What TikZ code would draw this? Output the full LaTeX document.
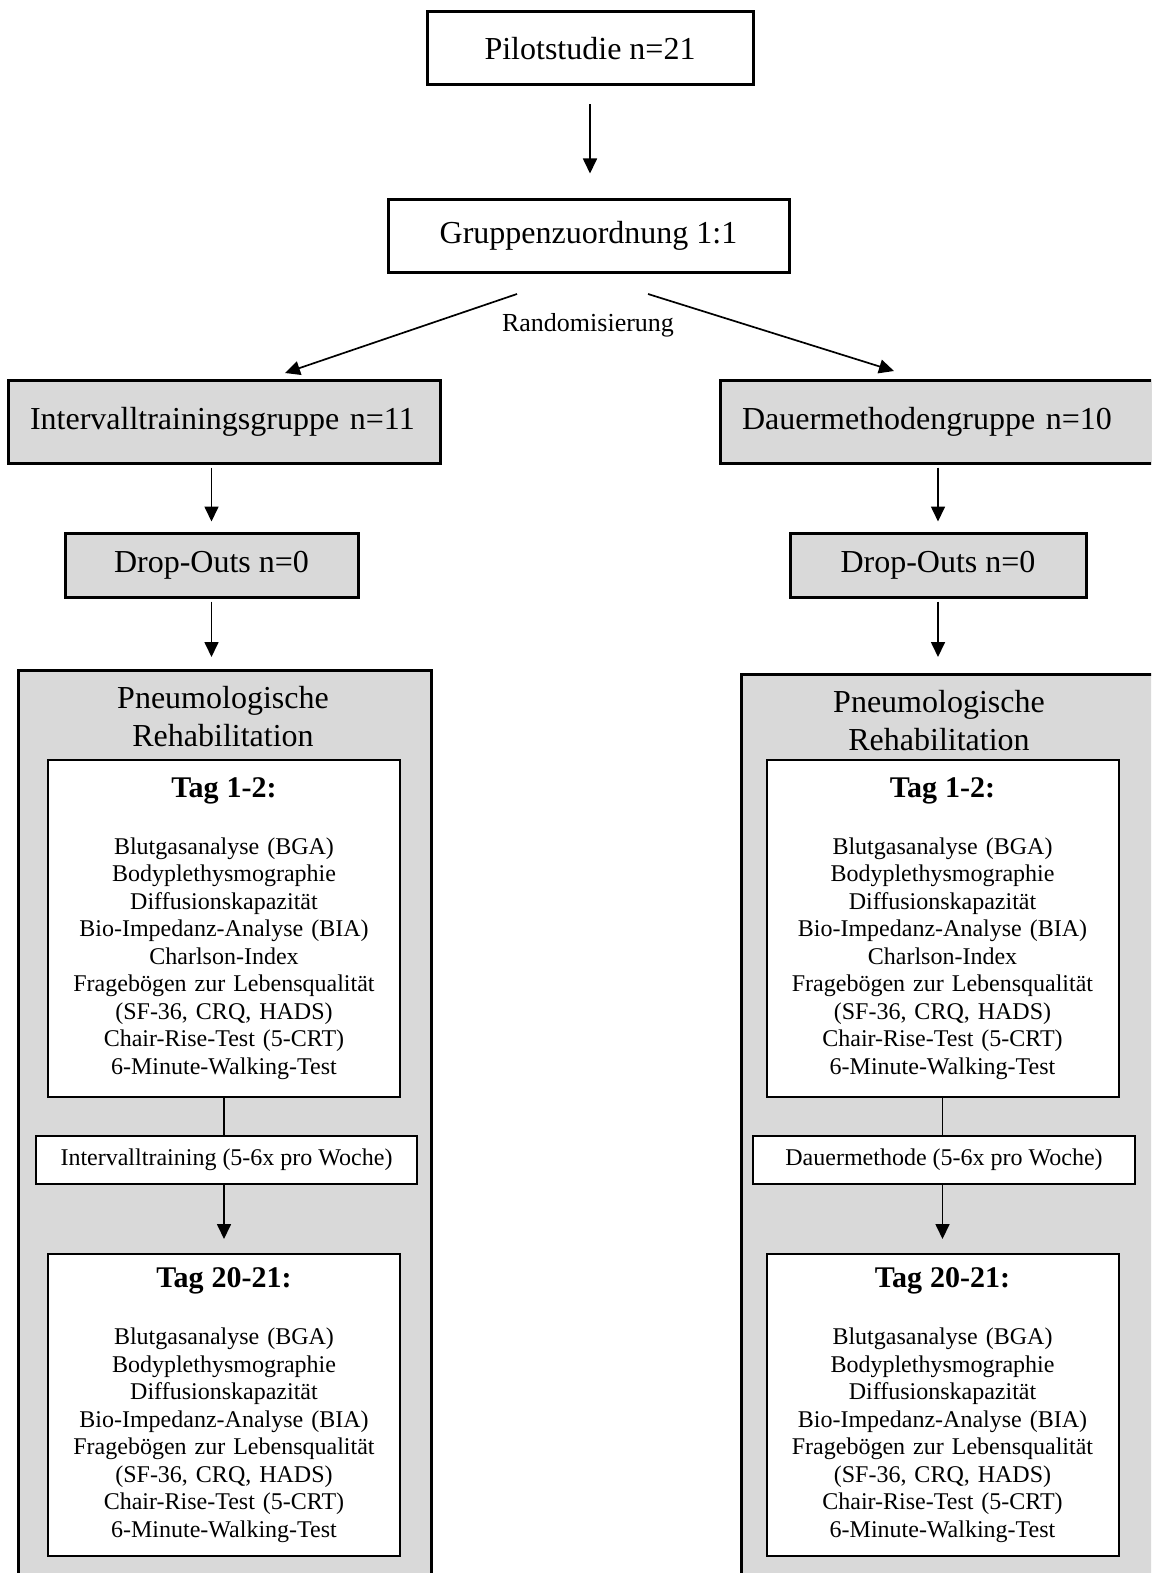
\documentclass[tikz,border=0pt]{standalone}
\usepackage{fontspec}
\setmainfont{Liberation Serif}
\usetikzlibrary{arrows.meta}
\definecolor{boxgray}{RGB}{217,217,217}
\newcommand{\bigfont}{\fontsize{16}{19}\selectfont}
\newcommand{\smallfont}{\fontsize{12}{13.75}\selectfont}
\newcommand{\taghead}[1]{{\fontsize{15}{15}\selectfont\bfseries #1}\\[14.7pt]}

\begin{document}
\begin{tikzpicture}[x=0.5pt,y=-0.5pt,
	pfeil/.style={-{Triangle[length=7.5pt,width=7pt]}, line width=.85pt},
	hauptbox/.style={draw, line width=1.5pt, font=\bigfont},
	gruppenbox/.style={hauptbox, fill=boxgray, minimum height=41.5pt, text width=194pt, inner xsep=11pt, align=left},
	dropbox/.style={hauptbox, fill=boxgray, minimum height=32pt},
	rehabox/.style={draw, line width=1.5pt, fill=boxgray, minimum width=206.5pt, minimum height=500pt, anchor=north west},
	tagbox/.style={draw, line width=1pt, fill=white, font=\smallfont, align=center, text width=176pt, inner xsep=0pt},
	trainbox/.style={draw, line width=.75pt, fill=white, font=\smallfont, minimum height=24pt}]
		\useasboundingbox (0,0) rectangle (1151,1573);
		\clip (0,0) rectangle (1151,1573);
		\fill[white] (0,0) rectangle (1151,1573);
		
		% oben
		\node[hauptbox, minimum width=163pt, minimum height=36.5pt] (pilot) at (590,48.5) {Pilotstudie n=21};
		\node[hauptbox, minimum width=200.5pt, minimum height=36pt] (zuord) at (588.5,236) {Gruppenzuordnung 1:1};
		\node[font=\fontsize{13}{15}\selectfont] (rand) at (588,325) {Randomisierung};
		\coordinate (rL0) at (517,294);
		\coordinate (rL1) at (285,373);
		\coordinate (rR0) at (648,294);
		\coordinate (rR1) at (894,371);
		\draw[pfeil, shorten <=9pt, shorten >=12.5pt] (pilot.south) -- (pilot.south |- zuord.north);
		\draw[pfeil] (rL0) -- (rL1);
		\draw[pfeil] (rR0) -- (rR1);
		
		% Gruppen
		\node[gruppenbox] (intg) at (224,421.5) {Intervalltrainingsgruppe n=11};
		\node[gruppenbox] (dauerg) at (936,421.5) {Dauermethodengruppe n=10};
		\node[dropbox, minimum width=146.5pt] (drop1) at (211.5,565) {Drop-Outs n=0};
		\node[dropbox, minimum width=148pt] (drop2) at (938,565) {Drop-Outs n=0};
		\draw[pfeil, shorten <=1.5pt, shorten >=5pt] (drop1.north |- intg.south) -- (drop1.north);
		\draw[pfeil, shorten <=1.5pt, shorten >=5pt] (drop2.north |- dauerg.south) -- (drop2.north);
		
		% Rehabilitation
		\node[rehabox] (reha1) at (17,669) {};
		\node[rehabox] (reha2) at (740,673) {};
		\draw[pfeil, shorten <=1.5pt, shorten >=6pt] (drop1.south) -- (drop1.south |- reha1.north);
		\draw[pfeil, shorten <=1.5pt, shorten >=8pt] (drop2.south) -- (drop2.south |- reha2.north);
		\node[font=\bigfont, align=center] (titel1) at (223,717) {Pneumologische\\Rehabilitation};
		\node[font=\bigfont, align=center] (titel2) at (939,721) {Pneumologische\\Rehabilitation};
		
		\node[tagbox, minimum height=168.5pt] (anf1) at (224,928.5) {\taghead{Tag 1-2:}
			Blutgasanalyse (BGA)\\ Bodyplethysmographie\\ Diffusionskapazität\\
			Bio-Impedanz-Analyse (BIA)\\ Charlson-Index\\ Fragebögen zur Lebensqualität\\
			(SF-36, CRQ, HADS)\\ Chair-Rise-Test (5-CRT)\\ 6-Minute-Walking-Test};
		\node[tagbox, minimum height=168.5pt] (anf2) at (942.5,928.5) {\taghead{Tag 1-2:}
			Blutgasanalyse (BGA)\\ Bodyplethysmographie\\ Diffusionskapazität\\
			Bio-Impedanz-Analyse (BIA)\\ Charlson-Index\\ Fragebögen zur Lebensqualität\\
			(SF-36, CRQ, HADS)\\ Chair-Rise-Test (5-CRT)\\ 6-Minute-Walking-Test};
		
		\node[trainbox, minimum width=190.5pt] (train1) at (226.5,1160) {Intervalltraining (5-6x pro Woche)};
		\node[trainbox, minimum width=191pt] (train2) at (944,1160) {Dauermethode (5-6x pro Woche)};
		
		\node[tagbox, minimum height=151pt] (end1) at (224,1405) {\taghead{Tag 20-21:}
			Blutgasanalyse (BGA)\\ Bodyplethysmographie\\ Diffusionskapazität\\
			Bio-Impedanz-Analyse (BIA)\\ Fragebögen zur Lebensqualität\\
			(SF-36, CRQ, HADS)\\ Chair-Rise-Test (5-CRT)\\ 6-Minute-Walking-Test};
		\node[tagbox, minimum height=151pt] (end2) at (942.5,1405) {\taghead{Tag 20-21:}
			Blutgasanalyse (BGA)\\ Bodyplethysmographie\\ Diffusionskapazität\\
			Bio-Impedanz-Analyse (BIA)\\ Fragebögen zur Lebensqualität\\
			(SF-36, CRQ, HADS)\\ Chair-Rise-Test (5-CRT)\\ 6-Minute-Walking-Test};
		
		\draw[line width=.75pt] (anf1.south) -- (anf1.south |- train1.north);
		\draw[line width=.75pt] (anf2.south) -- (anf2.south |- train2.north);
		\draw[pfeil, shorten >=7pt] (anf1.south |- train1.south) -- (end1.north);
		\draw[pfeil, shorten >=7pt] (anf2.south |- train2.south) -- (end2.north);
\end{tikzpicture}
\end{document}
